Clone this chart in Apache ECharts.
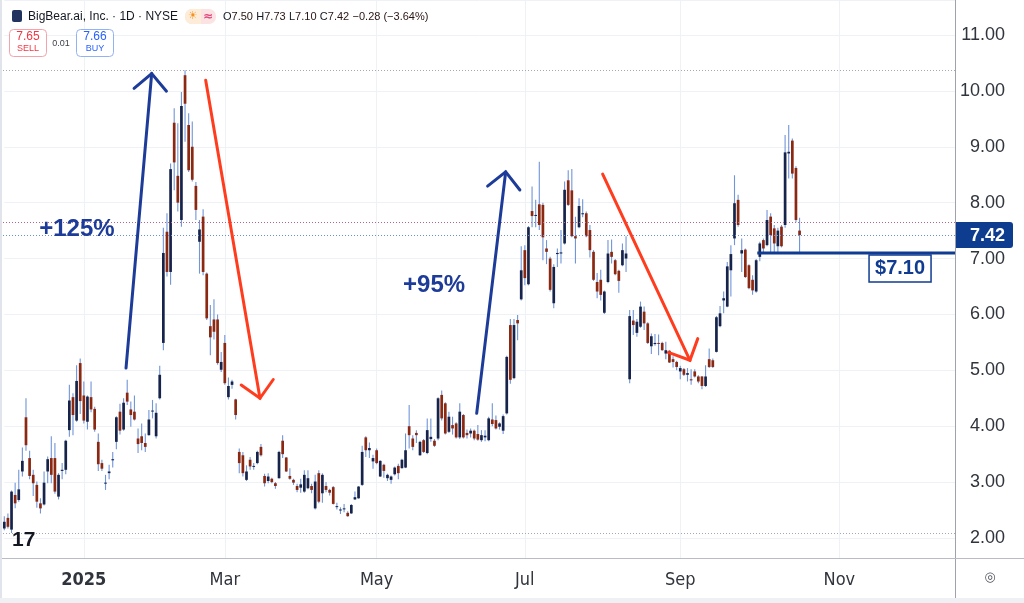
<!DOCTYPE html>
<html><head><meta charset="utf-8">
<script src="https://cdn.jsdelivr.net/npm/echarts/dist/echarts.min.js"></script>
<style>html,body{margin:0;padding:0;background:#fff}#c{width:1024px;height:603px}</style>
</head><body><div id="c"></div>
<script>
// ---- data ----
const startDate = '2024-11-29';
const marketHolidays = ['2024-12-25','2025-01-01','2025-01-09','2025-01-20','2025-02-17','2025-04-18','2025-05-26','2025-06-19','2025-07-04','2025-09-01','2025-11-27','2025-12-25'];
const totalSlots = 264;
const monthTickKeys = ['2025-01','2025-03','2025-05','2025-07','2025-09','2025-11'];
const monthTickLabels = ['2025','Mar','May','Jul','Sep','Nov'];
const priceTicks = [2,3,4,5,6,7,8,9,10,11];

const openP = [
2.17,2.36,2.15,2.77,2.68,3.19,4.16,3.43,3.13,2.95,
2.62,2.60,3.19,3.43,3.43,2.74,3.20,3.22,3.93,4.52,
4.10,5.13,4.55,4.08,4.52,4.31,3.72,3.34,2.98,3.16,
3.39,3.72,4.26,3.94,4.60,4.30,4.26,3.78,3.82,3.70,
3.84,4.27,3.82,4.50,5.49,7.48,6.76,9.43,8.48,7.69,
10.28,9.39,9.00,8.30,7.30,7.75,6.73,5.79,5.91,5.91,
5.01,5.49,4.52,4.74,4.48,3.54,3.48,3.04,3.40,3.28,
3.34,3.63,3.11,3.02,3.06,2.98,3.07,3.74,3.44,3.11,
3.04,2.93,2.90,2.83,2.89,2.93,2.53,3.16,2.80,2.93,
2.86,2.91,2.56,2.50,2.52,2.45,2.44,2.69,2.71,2.95,
3.80,3.57,3.37,3.57,3.10,3.31,3.07,3.04,3.14,3.29,
3.25,3.26,4.00,3.78,3.88,3.48,3.75,3.52,3.77,3.74,
3.78,4.56,4.41,3.90,4.02,4.05,3.80,4.20,3.88,3.87,
3.92,3.86,3.75,3.80,3.75,4.12,4.11,3.99,3.92,4.23,
5.81,4.86,5.90,6.27,7.15,6.54,7.85,7.77,7.97,7.96,
7.18,7.00,6.20,7.08,7.09,7.27,8.40,8.22,7.40,7.56,
7.80,7.81,7.51,7.12,6.58,6.62,6.03,6.58,7.12,6.97,
6.78,6.88,7.00,4.84,5.89,5.67,5.78,6.05,5.84,5.43,
5.47,5.49,5.49,5.30,5.35,5.20,5.15,4.98,5.02,4.92,
4.84,4.98,4.89,4.89,4.72,5.20,5.18,5.33,5.79,6.25,
6.14,6.79,7.36,8.05,7.09,7.16,6.88,6.62,6.41,7.03,
7.33,7.24,7.75,7.54,7.22,7.57,7.60,8.88,9.11,8.62,
7.50];
const highP = [
2.39,2.44,2.85,2.99,3.22,3.62,4.50,3.56,3.22,3.01,
2.71,3.19,3.46,3.82,3.70,3.16,3.34,3.76,4.74,4.59,
5.09,5.21,4.80,4.55,4.80,4.35,3.87,3.40,3.13,3.31,
3.54,4.18,4.40,4.50,4.83,4.44,4.55,3.96,4.05,3.87,
4.29,4.47,4.41,5.08,7.55,7.81,8.70,9.69,9.42,9.98,
10.37,9.60,9.45,8.37,7.69,7.88,6.75,6.17,6.27,6.00,
5.33,5.63,4.87,4.83,4.49,3.60,3.54,3.30,3.45,3.34,
3.56,3.68,3.15,3.16,3.08,3.00,3.56,3.84,3.45,3.25,
3.06,2.97,3.06,3.21,3.21,2.97,3.13,3.21,3.16,3.00,
2.88,2.93,2.63,2.55,2.61,2.48,2.61,2.83,2.93,3.65,
3.82,3.71,3.49,3.60,3.39,3.33,3.15,3.12,3.28,3.33,
3.42,3.87,4.38,3.84,3.93,3.74,3.77,4.14,4.14,3.77,
4.52,4.64,4.43,4.26,4.17,4.07,4.41,4.22,3.94,3.96,
3.94,4.02,3.93,3.93,4.17,4.41,4.19,4.07,4.21,5.26,
5.92,5.92,5.99,7.22,7.24,7.58,8.29,8.05,8.73,8.00,
7.33,7.03,6.90,7.18,7.51,8.38,8.58,8.60,7.75,8.08,
8.06,7.84,7.60,7.15,6.74,6.80,6.43,7.33,7.34,6.99,
6.80,7.27,7.40,6.08,6.08,5.92,6.23,6.14,5.86,5.66,
5.65,5.64,5.51,5.51,5.36,5.25,5.17,5.08,5.04,5.04,
5.02,5.02,4.91,4.90,5.09,5.39,5.21,5.97,6.15,6.41,
6.94,7.24,8.49,8.14,7.36,7.18,6.90,6.70,6.99,7.30,
7.36,7.87,7.81,7.60,7.55,7.60,9.21,9.39,9.15,8.65,
7.73];
const lowP = [
2.14,2.17,2.09,2.53,2.65,3.10,3.56,3.05,2.75,2.54,
2.44,2.58,2.98,2.98,2.79,2.69,3.05,3.14,3.81,3.84,
4.08,4.22,4.05,3.94,4.25,3.90,3.20,3.20,2.86,3.05,
3.26,3.59,3.85,3.92,4.38,3.99,4.10,3.52,3.57,3.54,
3.83,4.14,3.78,4.48,5.36,6.68,6.53,8.22,7.84,7.57,
9.09,8.55,8.38,7.69,6.73,6.70,5.90,5.27,5.55,5.10,
4.97,4.74,4.48,4.67,4.12,3.16,3.10,3.02,3.22,3.22,
3.32,3.46,2.92,2.98,2.98,2.88,3.06,3.43,3.18,3.04,
2.95,2.82,2.81,2.81,2.87,2.80,2.51,2.62,2.63,2.82,
2.76,2.60,2.51,2.43,2.46,2.38,2.43,2.68,2.70,2.93,
3.45,3.43,3.24,3.32,3.09,3.08,3.02,2.97,3.12,3.05,
3.24,3.25,3.60,3.57,3.70,3.47,3.52,3.50,3.72,3.63,
3.75,4.10,3.85,3.88,3.85,3.78,3.77,3.78,3.78,3.80,
3.75,3.74,3.72,3.73,3.73,4.00,3.94,3.94,3.86,4.21,
4.76,4.84,5.54,6.25,6.52,6.52,7.56,7.56,7.51,6.97,
6.90,6.41,6.11,6.85,6.91,7.25,7.94,7.38,6.91,7.54,
7.74,7.38,7.02,6.60,6.29,6.25,6.01,6.56,6.91,6.70,
6.39,6.86,6.76,4.77,5.63,5.60,5.76,5.72,5.47,5.29,
5.44,5.27,5.35,5.20,5.13,5.05,5.00,4.84,4.90,4.80,
4.74,4.87,4.77,4.66,4.70,5.04,5.04,5.32,5.77,6.02,
6.13,6.32,7.24,7.57,6.76,6.65,6.45,6.35,6.39,6.95,
7.10,7.22,7.10,7.10,7.10,7.20,7.55,8.43,8.43,7.65,
7.10];
const closeP = [
2.29,2.20,2.83,2.62,2.87,3.38,3.66,3.11,2.98,2.65,
2.53,2.99,3.41,3.13,2.83,3.13,3.22,3.74,4.46,4.20,
4.81,4.45,4.10,4.53,4.30,3.94,3.32,3.24,2.99,3.19,
3.41,4.16,3.92,4.42,4.44,4.20,4.12,3.68,3.70,3.63,
4.12,4.28,4.24,4.92,7.10,6.76,8.60,8.72,8.00,9.73,
9.77,8.58,8.41,7.87,7.52,6.76,5.93,5.59,5.69,5.13,
5.15,4.77,4.72,4.80,4.20,3.34,3.16,3.19,3.28,3.29,
3.54,3.48,2.98,3.10,3.00,2.93,3.54,3.50,3.19,3.06,
2.99,2.86,2.96,3.13,3.07,2.86,3.01,2.65,3.13,2.86,
2.81,2.61,2.57,2.51,2.53,2.39,2.59,2.73,2.92,3.54,
3.57,3.61,3.43,3.34,3.38,3.20,3.13,3.10,3.26,3.16,
3.40,3.57,3.84,3.63,3.84,3.72,3.54,3.93,3.81,3.65,
4.50,4.14,3.87,4.17,3.96,3.80,4.26,3.80,3.84,3.92,
3.78,3.76,3.84,3.83,4.14,4.04,3.96,4.05,4.18,5.24,
4.83,5.81,5.84,6.79,6.65,7.56,7.76,7.78,7.60,7.38,
7.12,6.44,6.85,7.10,7.11,8.23,7.96,7.40,7.36,7.94,
7.81,7.40,7.15,6.62,6.41,6.35,6.41,7.09,7.03,6.72,
6.60,7.15,7.09,5.97,5.81,5.87,6.14,5.84,5.49,5.61,
5.49,5.48,5.36,5.36,5.14,5.15,5.06,5.04,4.92,4.95,
4.82,4.89,4.80,4.72,4.89,5.06,5.06,5.95,6.02,6.29,
6.86,7.08,7.99,7.60,7.15,6.67,6.47,6.43,6.97,7.27,
7.18,7.69,7.42,7.27,7.50,7.22,8.90,8.91,8.52,7.69,
7.42];

const quote = {sell: 7.65, buy: 7.66, spread: '0.01', change: '−0.28', changePct: '(−3.64%)'};
const supportLevel = {price: 7.10, fromIndex: 208.3, labelIndex: 247.8, label: '$7.10'};
const moves = [
  {from:[33.67, 5.04], to:[40.77, 10.31], color:'#1d3b98'},
  {from:[55.71, 10.19], to:[70.73, 4.50], color:'#ff3c1e'},
  {from:[130.68, 4.23], to:[138.7, 8.55], color:'#1d3b98'},
  {from:[165.53, 8.51], to:[189.68, 5.18], color:'#ff3c1e'}
];
const moveLabels = [
  {text:'+125%', at:[20.1, 7.52]},
  {text:'+95%', at:[118.9, 6.52]}
];

// ---- build categories (trading days) ----
const dates = [];
(function(){
  const hol = new Set(marketHolidays);
  const p = startDate.split('-').map(Number);
  let d = new Date(Date.UTC(p[0], p[1]-1, p[2]));
  while (dates.length < totalSlots) {
    const iso = d.toISOString().slice(0,10);
    const wd = d.getUTCDay();
    if (wd !== 0 && wd !== 6 && !hol.has(iso)) dates.push(iso);
    d = new Date(d.getTime() + 86400000);
  }
})();
const labelAt = {};
for (let i = 1; i < dates.length; i++) {
  const k = dates[i].slice(0,7);
  if (k !== dates[i-1].slice(0,7)) {
    const j = monthTickKeys.indexOf(k);
    if (j >= 0) labelAt[i] = monthTickLabels[j];
  }
}
const rows = openP.map((o,i) => [i, o, highP[i], lowP[i], closeP[i]]);

const Y_MIN = 1.642, Y_MAX = 11.626;
const UP = '#16234a', DOWN = '#8a2812', WICK = '#7095d8';
const GRID = '#eef1f6';
const FONT = '"Liberation Sans", Arial, sans-serif';
const NARROW = '"Liberation Sans Narrow", "DejaVu Sans Condensed", "Liberation Sans", sans-serif';

const chart = echarts.init(document.getElementById('c'), null, {renderer:'canvas'});
const option = {
  animation: false,
  backgroundColor: '#ffffff',
  grid: {left: 4.3, right: 69, top: 0, bottom: 45, containLabel: false, outerBoundsMode: 'none'},
  xAxis: {
    type: 'category', data: dates, boundaryGap: false,
    axisLine: {show: false}, axisTick: {show: false},
    axisLabel: {
      interval: (i) => labelAt[i] !== undefined,
      formatter: (v, i) => { const t = labelAt[i]; if (t === undefined) return ''; return i === 22 ? '{b|' + t + '}' : t; },
      margin: 13, color: '#30343c', fontSize: 18, fontFamily: NARROW,
      rich: {b: {fontWeight: 'bold', fontSize: 18, fontFamily: NARROW, color: '#30343c'}}
    },
    splitLine: {show: true, interval: (i) => labelAt[i] !== undefined, lineStyle: {color: GRID, width: 1}}
  },
  yAxis: {
    type: 'value', position: 'right', min: Y_MIN, max: Y_MAX, splitNumber: 10, minInterval: 1, maxInterval: 1,
    axisLine: {show: false}, axisTick: {show: false},
    axisLabel: {
      margin: 50, align: 'right', color: '#30343c', fontSize: 18, fontFamily: FONT,
      formatter: (v) => priceTicks.some(t => Math.abs(t - v) < 1e-6) ? v.toFixed(2) : ''
    },
    splitLine: {lineStyle: {color: GRID, width: 1}}
  },
  series: [{
    type: 'custom', clip: false, z: 5,
    data: rows,
    encode: {x: 0, y: [1,2,3,4]},
    renderItem: function(params, api){
      const i = api.value(0), o = api.value(1), h = api.value(2), l = api.value(3), c = api.value(4);
      const pH = api.coord([i, h]), pL = api.coord([i, l]), pO = api.coord([i, o]), pC = api.coord([i, c]);
      const top = Math.min(pO[1], pC[1]);
      const bh = Math.max(Math.abs(pO[1] - pC[1]), 1);
      return {type: 'group', children: [
        {type: 'line', shape: {x1: pH[0], y1: pH[1], x2: pL[0], y2: pL[1]}, style: {stroke: WICK, lineWidth: 1.1}},
        {type: 'rect', shape: {x: pH[0] - 1.35, y: top, width: 2.7, height: bh}, style: {fill: c >= o ? UP : DOWN}}
      ]};
    }
  }]
};
chart.setOption(option);

// ---- overlays positioned through the chart's own axes ----
const x0 = chart.convertToPixel({xAxisIndex: 0}, dates[0]);
const xN = chart.convertToPixel({xAxisIndex: 0}, dates[totalSlots - 1]);
const step = (xN - x0) / (totalSlots - 1);
const PX = (i) => x0 + i * step;
const PY = (v) => chart.convertToPixel({yAxisIndex: 0}, v);
const plotRight = xN;
const axisBottom = 558;

const g = [];
function hline(v, color, dash, x1, x2, w) {
  const y = Math.round(PY(v)) + 0.5;
  g.push({type: 'line', z: 6, shape: {x1: x1, y1: y, x2: x2, y2: y}, style: {stroke: color, lineWidth: w || 1, lineDash: dash}});
}
const maxHigh = Math.max.apply(null, highP), minLow = Math.min.apply(null, lowP);
const lastClose = closeP[closeP.length - 1];
hline(maxHigh, '#a3a8b3', [1, 2], 0, plotRight);
hline(minLow, '#a3a8b3', [1, 2], 0, plotRight);
hline(quote.sell, '#b4648c', [1, 2], 0, plotRight);
hline(lastClose, '#6c8fd3', [1, 2], 0, plotRight);

// frame lines
g.push({type: 'line', z: 7, shape: {x1: 955.5, y1: 0, x2: 955.5, y2: 598}, style: {stroke: '#9ea2ab', lineWidth: 1}});
g.push({type: 'line', z: 7, shape: {x1: 0, y1: axisBottom + 0.5, x2: 1024, y2: axisBottom + 0.5}, style: {stroke: '#b9bcc4', lineWidth: 1}});
g.push({type: 'rect', z: 7, shape: {x: 0, y: 0, width: 2, height: 603}, style: {fill: '#e1e4ea'}});
g.push({type: 'rect', z: 7, shape: {x: 0, y: 598, width: 1024, height: 5}, style: {fill: '#eef0f4'}});

// arrows
moves.forEach(m => {
  const s = [PX(m.from[0]), PY(m.from[1])], t = [PX(m.to[0]), PY(m.to[1])];
  let dx = s[0] - t[0], dy = s[1] - t[1];
  const len = Math.hypot(dx, dy); dx /= len; dy /= len;
  const L = 23, a = Math.PI / 4;
  const rot = (ang) => [dx * Math.cos(ang) - dy * Math.sin(ang), dx * Math.sin(ang) + dy * Math.cos(ang)];
  const w1 = rot(a), w2 = rot(-a);
  g.push({type: 'polyline', z: 8, shape: {points: [s, t]}, style: {stroke: m.color, lineWidth: 3, lineCap: 'round', fill: 'none'}});
  g.push({type: 'polyline', z: 8, shape: {points: [[t[0] + w1[0] * L, t[1] + w1[1] * L], t, [t[0] + w2[0] * L, t[1] + w2[1] * L]]},
    style: {stroke: m.color, lineWidth: 3, lineCap: 'round', lineJoin: 'miter', fill: 'none'}});
});
moveLabels.forEach(m => {
  g.push({type: 'text', z: 8, x: PX(m.at[0]), y: PY(m.at[1]),
    style: {text: m.text, fill: '#1d3b98', font: 'bold 24px ' + FONT, align: 'center', verticalAlign: 'middle'}});
});

// support line and its label
const ySup = PY(supportLevel.price);
g.push({type: 'line', z: 8, shape: {x1: PX(supportLevel.fromIndex), y1: ySup, x2: plotRight, y2: ySup}, style: {stroke: '#0f3c92', lineWidth: 3}});
const lx = PX(supportLevel.labelIndex);
g.push({type: 'rect', z: 8, shape: {x: lx - 31, y: ySup + 2, width: 62, height: 27}, style: {fill: '#fff', stroke: '#0f3c92', lineWidth: 1.5}});
g.push({type: 'text', z: 9, x: lx, y: ySup + 15.5, style: {text: supportLevel.label, fill: '#0f3c92', font: 'bold 20px ' + FONT, align: 'center', verticalAlign: 'middle'}});

// last price tag on the axis
const yC = PY(lastClose);
g.push({type: 'rect', z: 9, shape: {x: 956, y: yC - 13, width: 57, height: 26, r: [0, 3, 3, 0]}, style: {fill: '#0e3d90'}});
g.push({type: 'text', z: 10, x: 1005, y: yC + 0.5, style: {text: lastClose.toFixed(2), fill: '#fff', font: 'bold 18px ' + FONT, align: 'right', verticalAlign: 'middle'}});

// header
g.push({type: 'rect', z: 10, shape: {x: 12, y: 10, width: 10, height: 12, r: 2}, style: {fill: '#22335f'}});
g.push({type: 'text', z: 10, x: 28, y: 16.5, style: {text: 'BigBear.ai, Inc. · 1D · NYSE', fill: '#131722', font: '12px ' + FONT, verticalAlign: 'middle'}});
g.push({type: 'rect', z: 10, shape: {x: 185, y: 9, width: 31, height: 15, r: 7}, style: {fill: '#fbe3e4'}});
g.push({type: 'rect', z: 10, shape: {x: 185, y: 9, width: 16, height: 15, r: [7, 0, 0, 7]}, style: {fill: '#fdecd8'}});
g.push({type: 'text', z: 11, x: 193, y: 16.5, style: {text: '☀', fill: '#f5921e', font: '11px "DejaVu Sans"', align: 'center', verticalAlign: 'middle'}});
g.push({type: 'text', z: 11, x: 208, y: 16.5, style: {text: '≈', fill: '#e0457b', font: 'bold 12px "DejaVu Sans"', align: 'center', verticalAlign: 'middle'}});
const v2 = (x) => x.toFixed(2);
g.push({type: 'text', z: 10, x: 223, y: 16.5, style: {
  text: '{k|O}{v|' + v2(openP[220]) + '} {k|H}{v|' + v2(highP[220]) + '} {k|L}{v|' + v2(lowP[220]) + '} {k|C}{v|' + v2(closeP[220]) + '} {v|' + quote.change + ' ' + quote.changePct + '}',
  verticalAlign: 'middle',
  rich: {k: {fill: '#131722', font: '11px ' + FONT}, v: {fill: '#2a1414', font: '11px ' + FONT}}
}});
g.push({type: 'rect', z: 10, shape: {x: 9.5, y: 29.5, width: 37, height: 27, r: 4}, style: {fill: '#fff', stroke: '#f4a3aa', lineWidth: 1}});
g.push({type: 'text', z: 11, x: 28, y: 37, style: {text: v2(quote.sell), fill: '#f23645', font: '12px ' + FONT, align: 'center', verticalAlign: 'middle'}});
g.push({type: 'text', z: 11, x: 28, y: 49, style: {text: 'SELL', fill: '#f23645', font: '9px ' + FONT, align: 'center', verticalAlign: 'middle'}});
g.push({type: 'text', z: 11, x: 61, y: 43.5, style: {text: quote.spread, fill: '#3b3f47', font: '9px ' + FONT, align: 'center', verticalAlign: 'middle'}});
g.push({type: 'rect', z: 10, shape: {x: 76.5, y: 29.5, width: 37, height: 27, r: 4}, style: {fill: '#fff', stroke: '#93b2f5', lineWidth: 1}});
g.push({type: 'text', z: 11, x: 95, y: 37, style: {text: v2(quote.buy), fill: '#2962ff', font: '12px ' + FONT, align: 'center', verticalAlign: 'middle'}});
g.push({type: 'text', z: 11, x: 95, y: 49, style: {text: 'BUY', fill: '#2962ff', font: '9px ' + FONT, align: 'center', verticalAlign: 'middle'}});

// watermark logo and settings glyph
g.push({type: 'text', z: 10, x: 12, y: 540, style: {text: '17', fill: '#131722', font: 'bold 21px ' + FONT, verticalAlign: 'middle'}});
g.push({type: 'text', z: 10, x: 990, y: 578, style: {text: '◎', fill: '#50535e', font: '13px "DejaVu Sans"', align: 'center', verticalAlign: 'middle'}});

chart.setOption({graphic: g});
</script></body></html>
